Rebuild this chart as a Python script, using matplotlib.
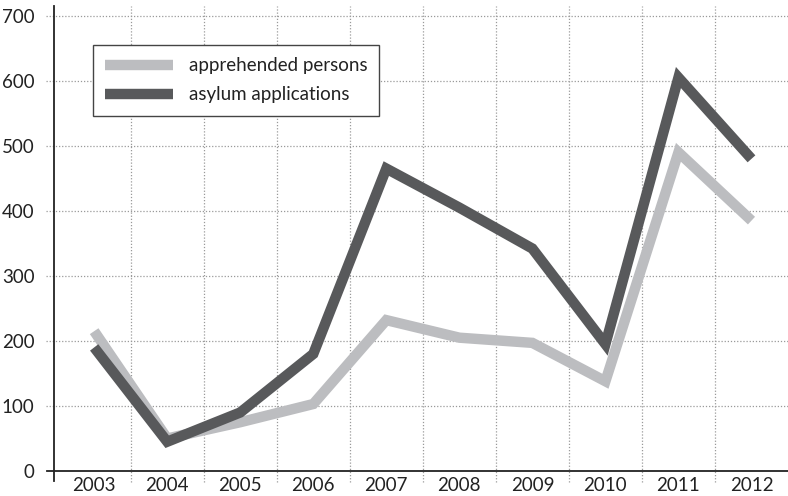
import matplotlib
matplotlib.use("Agg")
import matplotlib.pyplot as plt
from matplotlib.transforms import blended_transform_factory

# Данные
years = ['2003', '2004', '2005', '2006', '2007', '2008', '2009', '2010', '2011', '2012']
apprehended = [215, 50, 75, 103, 232, 205, 197, 138, 490, 385]
asylum = [190, 45, 90, 180, 465, 405, 342, 195, 605, 480]
y_ticks = [0, 100, 200, 300, 400, 500, 600, 700]

plt.rcParams['font.family'] = ['Lato', 'DejaVu Sans']

light = '#bcbdc0'
dark = '#58595b'
grid_col = '#9a9a9a'

fig = plt.figure(figsize=(7.88, 4.96), dpi=100)
W, H = 788, 496
x0, x1, ybot, ytop = 54, 788, 471, 6
ax = fig.add_axes([x0 / W, (H - ybot) / H, (x1 - x0) / W, (ybot - ytop) / H])

xs = list(range(len(years)))
ax.plot(xs, apprehended, color=light, lw=7.5, solid_joinstyle='miter',
        solid_capstyle='butt', label='apprehended persons', zorder=3)
ax.plot(xs, asylum, color=dark, lw=7.5, solid_joinstyle='miter',
        solid_capstyle='butt', label='asylum applications', zorder=4)

ax.set_xlim(-0.55, 9.5)
ax.set_ylim(0, 715)

for s in ax.spines.values():
    s.set_visible(False)

# сетка: горизонтальные линии заходят левее оси, вертикальные — ниже оси
tr_y = blended_transform_factory(ax.transAxes, ax.transData)
for v in y_ticks[1:]:
    ax.plot([-0.011, 1], [v, v], transform=tr_y, color=grid_col, lw=0.9,
            ls=(0, (1, 1.5)), clip_on=False, zorder=1)
tr_x = blended_transform_factory(ax.transData, ax.transAxes)
for i in range(len(years) - 1):
    ax.plot([i + 0.5, i + 0.5], [-0.024, 1], transform=tr_x, color=grid_col,
            lw=0.9, ls=(0, (1, 1.5)), clip_on=False, zorder=1)

# оси
ax.plot([0, 0], [-0.022, 1], transform=ax.transAxes, color='#222222', lw=1.3,
        clip_on=False, zorder=5)
ax.plot([-0.01, 1], [0, 0], transform=ax.transAxes, color='#222222', lw=1.3,
        clip_on=False, zorder=5)

ax.set_yticks(y_ticks)
ax.set_yticklabels([str(v) for v in y_ticks])
ax.set_xticks(xs)
ax.set_xticklabels(years)
ax.tick_params(axis='both', length=0, labelsize=13.5, colors='#222222')
ax.tick_params(axis='y', pad=14)
ax.tick_params(axis='x', pad=4)

leg = ax.legend(loc='upper left', bbox_to_anchor=(0.053, 0.916), borderaxespad=0,
                fontsize=13.5, frameon=True, fancybox=False, handlelength=3.6,
                handletextpad=0.85, labelspacing=0.65, borderpad=0.65)
leg.get_frame().set_edgecolor('#444444')
leg.get_frame().set_linewidth(1.0)
leg.get_frame().set_alpha(1)
for t in leg.get_texts():
    t.set_color('#222222')

fig.savefig('out.png', dpi=100)
